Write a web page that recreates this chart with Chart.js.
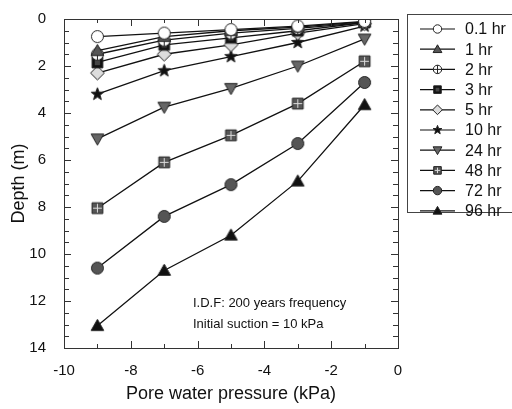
<!DOCTYPE html>
<html>
<head>
<meta charset="utf-8">
<script src="https://cdn.jsdelivr.net/npm/chart.js@4/dist/chart.umd.min.js"></script>
<style>
  html, body { margin: 0; padding: 0; background: #fff; }
</style>
</head>
<body>
<canvas id="c" width="512" height="409"></canvas>
<script>
// pore water pressure (kPa) at each measurement point
const pressure = [-9, -7, -5, -3, -1];
const seriesNames = ['0.1 hr', '1 hr', '2 hr', '3 hr', '5 hr', '10 hr', '24 hr', '48 hr', '72 hr', '96 hr'];
// depth (m) for each elapsed time
const d0p1 = [0.75, 0.6, 0.45, 0.3, 0.1];
const d1 = [1.35, 0.75, 0.5, 0.35, 0.12];
const d2 = [1.5, 0.9, 0.6, 0.4, 0.15];
const d3 = [1.85, 1.1, 0.8, 0.5, 0.15];
const d5 = [2.3, 1.5, 1.1, 0.6, 0.2];
const d10 = [3.2, 2.2, 1.6, 1.0, 0.3];
const d24 = [5.1, 3.75, 2.95, 2.0, 0.85];
const d48 = [8.05, 6.1, 4.95, 3.6, 1.8];
const d72 = [10.6, 8.4, 7.05, 5.3, 2.7];
const d96 = [13.05, 10.7, 9.2, 6.9, 3.65];
const depthSeries = [d0p1, d1, d2, d3, d5, d10, d24, d48, d72, d96];
const markerTypes = ['circleOpen', 'triGray', 'circlePlus', 'squareBlack', 'diamond', 'star', 'triDown', 'squareGrid', 'circleGray', 'triBlack'];
const noteLines = ['I.D.F: 200 years frequency', 'Initial suction = 10 kPa'];

const FONT = '"Liberation Sans", Arial, sans-serif';

// draw one marker shape into ctx at (cx, cy) with half-size r
function drawMarker(ctx, type, cx, cy, r) {
  ctx.save();
  ctx.lineWidth = 1;
  ctx.strokeStyle = '#222';
  ctx.beginPath();
  if (type === 'circleOpen' || type === 'circlePlus' || type === 'circleGray') {
    ctx.arc(cx, cy, r, 0, Math.PI * 2);
    ctx.fillStyle = type === 'circleGray' ? '#555' : '#fff';
    ctx.fill(); ctx.stroke();
    if (type === 'circlePlus') {
      ctx.beginPath();
      ctx.moveTo(cx - r, cy); ctx.lineTo(cx + r, cy);
      ctx.moveTo(cx, cy - r); ctx.lineTo(cx, cy + r);
      ctx.stroke();
    }
  } else if (type === 'triGray' || type === 'triBlack') {
    ctx.moveTo(cx, cy - r * 1.05);
    ctx.lineTo(cx + r * 1.05, cy + r * 0.8);
    ctx.lineTo(cx - r * 1.05, cy + r * 0.8);
    ctx.closePath();
    ctx.fillStyle = type === 'triGray' ? '#555' : '#111';
    ctx.fill(); ctx.stroke();
  } else if (type === 'triDown') {
    ctx.moveTo(cx, cy + r * 1.05);
    ctx.lineTo(cx + r * 1.05, cy - r * 0.8);
    ctx.lineTo(cx - r * 1.05, cy - r * 0.8);
    ctx.closePath();
    ctx.fillStyle = '#666';
    ctx.fill(); ctx.stroke();
  } else if (type === 'squareBlack' || type === 'squareGrid') {
    const s = r * 0.9;
    ctx.rect(cx - s, cy - s, 2 * s, 2 * s);
    ctx.fillStyle = type === 'squareBlack' ? '#111' : '#555';
    ctx.fill(); ctx.stroke();
    if (type === 'squareBlack') {
      ctx.fillStyle = '#444';
      ctx.fillRect(cx - s / 2, cy - s / 2, s, s);
    } else {
      ctx.beginPath();
      ctx.strokeStyle = '#ddd';
      ctx.moveTo(cx - s + 1, cy); ctx.lineTo(cx + s - 1, cy);
      ctx.moveTo(cx, cy - s + 1); ctx.lineTo(cx, cy + s - 1);
      ctx.stroke();
    }
  } else if (type === 'diamond') {
    ctx.moveTo(cx, cy - r * 1.15);
    ctx.lineTo(cx + r * 1.15, cy);
    ctx.lineTo(cx, cy + r * 1.15);
    ctx.lineTo(cx - r * 1.15, cy);
    ctx.closePath();
    ctx.fillStyle = '#ddd';
    ctx.fill(); ctx.stroke();
  } else if (type === 'star') {
    const R = r * 1.1, ri = R * 0.42;
    for (let i = 0; i < 10; i++) {
      const a = -Math.PI / 2 + i * Math.PI / 5;
      const rr = i % 2 === 0 ? R : ri;
      ctx.lineTo(cx + rr * Math.cos(a), cy + rr * Math.sin(a));
    }
    ctx.closePath();
    ctx.fillStyle = '#111';
    ctx.fill(); ctx.stroke();
  }
  ctx.restore();
}

function markerImage(type, r) {
  const size = Math.ceil(2 * r + 5);
  const cv = document.createElement('canvas');
  cv.width = size; cv.height = size;
  drawMarker(cv.getContext('2d'), type, size / 2, size / 2, r);
  return cv;
}

const datasets = seriesNames.map((name, i) => ({
  label: name,
  data: pressure.map((p, j) => ({ x: p, y: depthSeries[i][j] })),
  borderColor: '#111',
  borderWidth: 1.3,
  pointStyle: markerImage(markerTypes[i], 6),
  pointRadius: 6,
  fill: false
}));

// frame, inward ticks on all four sides, note text and legend box
const framePlugin = {
  id: 'frame',
  afterDraw(chart) {
    const { ctx, chartArea: a, scales: { x, y } } = chart;
    ctx.save();
    ctx.strokeStyle = '#333';
    ctx.lineWidth = 1;
    ctx.strokeRect(a.left + 0.5, a.top + 0.5, a.right - a.left, a.bottom - a.top);
    ctx.beginPath();
    for (let v = -10; v <= 0; v += 1) {
      const px = Math.round(x.getPixelForValue(v)) + 0.5;
      const len = v % 2 === 0 ? 7 : 4;
      ctx.moveTo(px, a.bottom); ctx.lineTo(px, a.bottom - len);
      ctx.moveTo(px, a.top); ctx.lineTo(px, a.top + len);
    }
    for (let v = 0; v <= 14; v += 0.5) {
      const py = Math.round(y.getPixelForValue(v)) + 0.5;
      const len = v % 2 === 0 ? 7 : 5;
      ctx.moveTo(a.left, py); ctx.lineTo(a.left + len, py);
      ctx.moveTo(a.right, py); ctx.lineTo(a.right - len, py);
    }
    ctx.stroke();

    // note text
    ctx.fillStyle = '#111';
    ctx.font = '13px ' + FONT;
    ctx.textAlign = 'left';
    ctx.textBaseline = 'middle';
    ctx.fillText(noteLines[0], 193, 303);
    ctx.fillText(noteLines[1], 193, 324);

    // legend
    const lx = 407.5, ly = 14.5, lw = 110, lh = 198;
    ctx.strokeStyle = '#444';
    ctx.strokeRect(lx, ly, lw, lh);
    ctx.font = '16px ' + FONT;
    seriesNames.forEach((name, i) => {
      const cy = 29 + i * 20.2;
      ctx.beginPath();
      ctx.strokeStyle = '#111';
      ctx.lineWidth = 1.2;
      ctx.moveTo(420, cy); ctx.lineTo(455, cy);
      ctx.stroke();
      drawMarker(ctx, markerTypes[i], 437.5, cy, 4.2);
      ctx.fillStyle = '#111';
      ctx.fillText(name, 465, cy + 1);
    });
    ctx.restore();
  }
};

new Chart(document.getElementById('c').getContext('2d'), {
  type: 'line',
  data: { datasets },
  options: {
    responsive: false,
    animation: false,
    layout: { padding: { top: 14, right: 114, left: 0, bottom: 0 } },
    plugins: { legend: { display: false }, tooltip: { enabled: false } },
    scales: {
      x: {
        type: 'linear',
        min: -10, max: 0,
        border: { display: false },
        grid: { display: false },
        ticks: { stepSize: 2, color: '#111', font: { size: 15, family: FONT }, padding: 6, maxRotation: 0 },
        title: { display: true, text: 'Pore water pressure (kPa)', color: '#111', font: { size: 18, family: FONT }, padding: { top: 6, bottom: 4 } },
        afterFit(s) { s.height = 61; }
      },
      y: {
        type: 'linear',
        reverse: true,
        min: 0, max: 14,
        border: { display: false },
        grid: { display: false },
        ticks: { stepSize: 2, color: '#111', font: { size: 15, family: FONT }, padding: 10 },
        title: { display: true, text: 'Depth (m)', color: '#111', font: { size: 18, family: FONT }, padding: { top: 8, bottom: 0 } },
        afterFit(s) { s.width = 64; }
      }
    }
  },
  plugins: [framePlugin]
});
</script>
</body>
</html>
